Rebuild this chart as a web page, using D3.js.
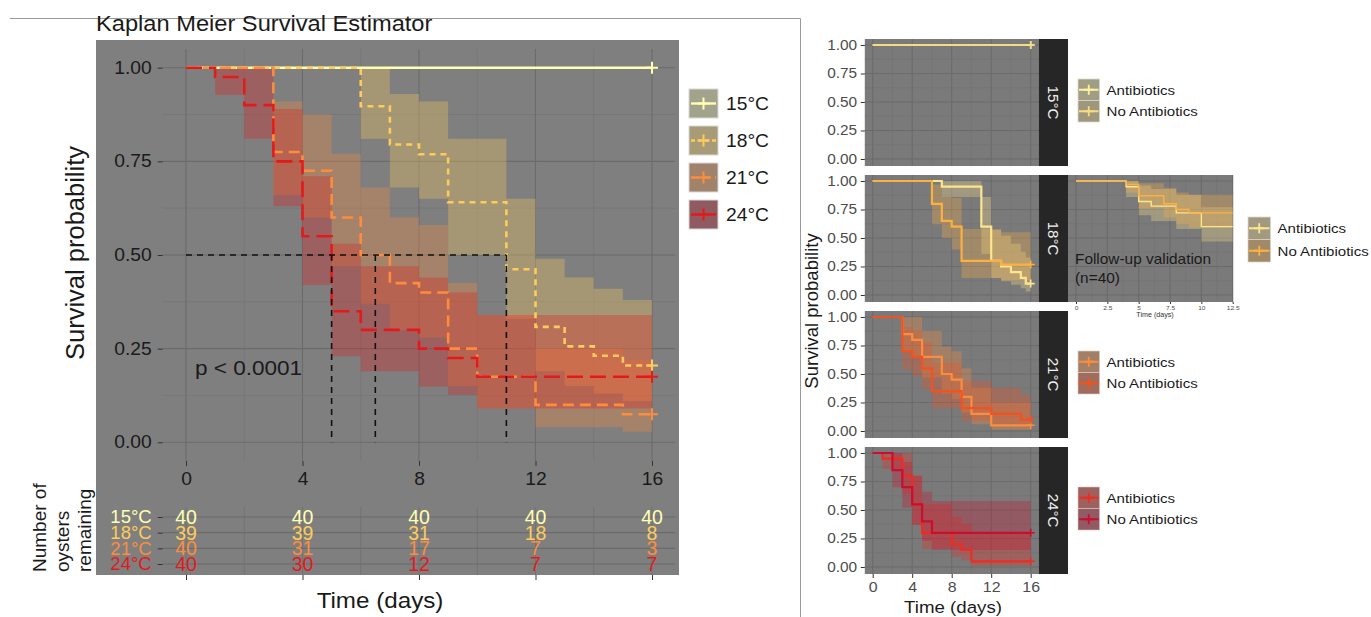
<!DOCTYPE html>
<html>
<head>
<meta charset="utf-8">
<script src="https://cdnjs.cloudflare.com/ajax/libs/d3/7.8.5/d3.min.js"></script>
<style>
  body { margin: 0; background: #fff; }
  svg text { font-family: "Liberation Sans", Arial, Helvetica, sans-serif; }
</style>
</head>
<body>
<div id="chart"></div>
<script>
// temperature groups
const groups = ["15°C", "18°C", "21°C", "24°C"]
const groupColors = ["#ffffb2", "#fecc5c", "#fd8d3c", "#e31a1c"]

// Kaplan-Meier steps, each row: [day, survival, lower CI, upper CI]
const km15 = [[0, 1, 1, 1]]
const km18 = [[0, 1, 1, 1], [6, 0.897, 0.81, 1], [7, 0.795, 0.68, 0.93], [8, 0.769, 0.65, 0.91],
  [9, 0.641, 0.5, 0.81], [11, 0.462, 0.33, 0.65], [12, 0.308, 0.19, 0.49], [13, 0.256, 0.15, 0.44],
  [14, 0.231, 0.13, 0.41], [15, 0.205, 0.11, 0.38]]
const km21 = [[0, 1, 1, 1], [3, 0.775, 0.66, 0.91], [4, 0.725, 0.6, 0.875], [5, 0.6, 0.47, 0.77],
  [6, 0.5, 0.37, 0.68], [7, 0.425, 0.3, 0.6], [8, 0.4, 0.28, 0.58], [9, 0.25, 0.15, 0.425],
  [10, 0.175, 0.09, 0.34], [12, 0.1, 0.04, 0.25], [15, 0.075, 0.028, 0.22]]
const km24 = [[0, 1, 1, 1], [1, 0.975, 0.927, 1], [2, 0.9, 0.81, 1], [3, 0.75, 0.63, 0.89],
  [4, 0.55, 0.42, 0.71], [5, 0.35, 0.23, 0.53], [6, 0.3, 0.19, 0.47], [8, 0.25, 0.148, 0.44],
  [9, 0.225, 0.126, 0.4], [10, 0.175, 0.09, 0.34]]
const medianDays = [5, 6.5, 11]
const pValue = "p < 0.0001"

// number at risk
const riskDays = [0, 4, 8, 12, 16]
const risk15 = [40, 40, 40, 40, 40]
const risk18 = [39, 39, 31, 18, 8]
const risk21 = [40, 31, 17, 7, 3]
const risk24 = [40, 30, 12, 7, 7]

const dayTicks = [0, 4, 8, 12, 16]
const survTicks = [0, 0.25, 0.5, 0.75, 1]

// facets by treatment
const treatments = ["Antibiotics", "No Antibiotics"]
const f15A = [[0, 1, 1, 1]]
const f15N = [[0, 1, 1, 1]]
const f18A = [[0, 1, 1, 1], [7, 0.95, 0.86, 1], [11, 0.6, 0.36, 0.86], [12, 0.3, 0.15, 0.57],
  [13, 0.25, 0.12, 0.52], [14, 0.2, 0.09, 0.45], [15, 0.15, 0.06, 0.38], [15.5, 0.1, 0.03, 0.33]]
const f18N = [[0, 1, 1, 1], [6, 0.8, 0.62, 0.97], [7, 0.65, 0.5, 0.86], [8, 0.6, 0.4, 0.85],
  [9, 0.3, 0.15, 0.58], [13, 0.267, 0.13, 0.55]]
const f21A = [[0, 1, 1, 1], [3, 0.85, 0.7, 1], [4, 0.8, 0.64, 1], [5, 0.65, 0.47, 0.88],
  [7, 0.5, 0.33, 0.74], [8, 0.45, 0.28, 0.7], [9, 0.3, 0.16, 0.55], [10, 0.15, 0.06, 0.38],
  [12, 0.05, 0.01, 0.25]]
const f21N = [[0, 1, 1, 1], [3, 0.7, 0.54, 0.91], [4, 0.65, 0.48, 0.88], [5, 0.55, 0.37, 0.78],
  [6, 0.35, 0.2, 0.6], [9, 0.2, 0.09, 0.44], [12, 0.15, 0.05, 0.38], [15, 0.1, 0.03, 0.32]]
const f24A = [[0, 1, 1, 1], [1, 0.95, 0.86, 1], [3, 0.8, 0.64, 1], [4, 0.55, 0.37, 0.8],
  [5, 0.3, 0.16, 0.55], [8, 0.2, 0.09, 0.44], [9, 0.15, 0.06, 0.38], [10, 0.05, 0.01, 0.3]]
const f24N = [[0, 1, 1, 1], [2, 0.85, 0.7, 1], [3, 0.7, 0.52, 0.92], [4, 0.55, 0.37, 0.8],
  [5, 0.4, 0.23, 0.66], [6, 0.3, 0.15, 0.58]]
const facetColors = [["#fdf0a0", "#f5dc80"], ["#fde58e", "#fdb042"], ["#fd8d3c", "#f4511e"], ["#ef2b22", "#c90f2f"]]

// follow-up validation inset
const insetA = [[0, 1, 1, 1], [4, 0.95, 0.86, 1], [5, 0.82, 0.7, 0.96], [6, 0.78, 0.65, 0.93],
  [8, 0.72, 0.58, 0.88], [10, 0.6, 0.47, 0.77]]
const insetN = [[0, 1, 1, 1], [4, 0.97, 0.9, 1], [5, 0.87, 0.76, 0.98], [7, 0.8, 0.68, 0.94],
  [8, 0.75, 0.62, 0.9], [9, 0.72, 0.59, 0.88]]
const insetTicks = [0, 2.5, 5, 7.5, 10, 12.5]

const SX = 1.1
let svg = d3.select("#chart").append("svg")
            .attr("width", 1371)
            .attr("height", 617)

function txt(g, x, y, s, size, anchor, color, sx) {
  return g.append("text")
          .attr("transform", "translate(" + x + "," + y + ") scale(" + (sx || SX) + ",1)")
          .attr("text-anchor", anchor || "start")
          .attr("font-size", size)
          .attr("fill", color || "#1a1a1a")
          .text(s)
}

function stepPoints(rows, end) {
  let last = rows[rows.length - 1]
  return rows.concat([[end, last[1], last[2], last[3]]])
}

function drawBand(g, xs, ys, rows, end, color, alpha) {
  g.append("path")
   .datum(stepPoints(rows, end))
   .attr("d", d3.area().curve(d3.curveStepAfter)
                .x(d => xs(d[0])).y0(d => ys(d[2])).y1(d => ys(d[3])))
   .attr("fill", color)
   .attr("fill-opacity", alpha)
}

function drawLine(g, xs, ys, rows, end, color, width, dash) {
  g.append("path")
   .datum(stepPoints(rows, end))
   .attr("d", d3.line().curve(d3.curveStepAfter).x(d => xs(d[0])).y(d => ys(d[1])))
   .attr("fill", "none")
   .attr("stroke", color)
   .attr("stroke-width", width)
   .attr("stroke-dasharray", dash)
}

function cross(g, cx, cy, r, color, w) {
  g.append("path")
   .attr("d", "M" + (cx - r) + "," + cy + "H" + (cx + r) + "M" + cx + "," + (cy - r) + "V" + (cy + r))
   .attr("stroke", color)
   .attr("stroke-width", w)
}

function drawGrid(g, xs, ys, xVals, yVals, x0, x1, y0, y1, isMajorX, isMajorY) {
  g.selectAll(null).data(xVals).enter().append("line")
   .attr("x1", d => xs(d)).attr("x2", d => xs(d)).attr("y1", y0).attr("y2", y1)
   .attr("stroke", d => isMajorX(d) ? "#6b6b6b" : "#727272")
   .attr("stroke-width", d => isMajorX(d) ? 1.1 : 0.6)
  g.selectAll(null).data(yVals).enter().append("line")
   .attr("y1", d => ys(d)).attr("y2", d => ys(d)).attr("x1", x0).attr("x2", x1)
   .attr("stroke", d => isMajorY(d) ? "#6b6b6b" : "#727272")
   .attr("stroke-width", d => isMajorY(d) ? 1.1 : 0.6)
}

function styleAxis(g, size, color, sx) {
  g.select(".domain").remove()
  g.selectAll(".tick line").attr("stroke", "#333")
  g.selectAll(".tick text")
   .attr("font-size", size)
   .attr("fill", color)
   .attr("font-family", "Liberation Sans, Arial, sans-serif")
   .attr("transform", "scale(" + (sx || SX) + ",1)")
}

// frame lines
svg.append("path")
   .attr("d", "M10,18.5H800.5V617")
   .attr("fill", "none")
   .attr("stroke", "#9a9a9a")

txt(svg, 96, 31, "Kaplan Meier Survival Estimator", 21.5)

// ---------- main Kaplan-Meier plot ----------
let x = d3.scaleLinear().domain([0, 16]).range([186, 652])
let y = d3.scaleLinear().domain([0, 1]).range([442.3, 67.7])
let xL = x(-0.8), xR = x(16.8), yT = y(1.05), yB = y(-0.05)

svg.append("rect")
   .attr("x", 96).attr("y", 40)
   .attr("width", 583).attr("height", 535)
   .attr("fill", "#7f7f7f")

let main = svg.append("g")
drawGrid(main, x, y, d3.range(0, 17, 2), d3.range(0, 1.01, 0.125), xL, xR, yT, yB,
         d => d % 4 == 0, d => (d * 4) % 1 == 0)

let mainCurves = [km15, km18, km21, km24]
let dashes = [null, "6,5", "11,6", "16,7"]
mainCurves.forEach((c, i) => drawBand(main, x, y, c, 16, groupColors[i], 0.3))
mainCurves.forEach((c, i) => drawLine(main, x, y, c, 16, groupColors[i], 2.6, dashes[i]))

// median survival lines
main.append("line")
    .attr("x1", x(0)).attr("x2", x(d3.max(medianDays)))
    .attr("y1", y(0.5)).attr("y2", y(0.5))
    .attr("stroke", "#111").attr("stroke-width", 1.6).attr("stroke-dasharray", "6,5")
main.selectAll(".median").data(medianDays).enter().append("line")
    .attr("x1", d => x(d)).attr("x2", d => x(d))
    .attr("y1", y(0.5)).attr("y2", y(0))
    .attr("stroke", "#111").attr("stroke-width", 1.6).attr("stroke-dasharray", "6,5")

mainCurves.forEach((c, i) => cross(main, x(16), y(c[c.length - 1][1]), 6, groupColors[i], 2))

svg.append("g")
   .attr("transform", "translate(" + xL + ",0)")
   .call(d3.axisLeft(y).tickValues(survTicks).tickFormat(d3.format(".2f")).tickSize(5).tickPadding(5))
   .call(g => styleAxis(g, 17.5, "#1a1a1a"))

svg.append("g")
   .attr("transform", "translate(0," + yB + ")")
   .call(d3.axisBottom(x).tickValues(dayTicks).tickSize(5).tickPadding(7))
   .call(g => styleAxis(g, 17.5, "#1a1a1a"))

txt(svg, 195, 375, pValue, 20.5)

svg.append("text")
   .attr("transform", "translate(84,253) rotate(-90)")
   .attr("text-anchor", "middle")
   .attr("font-size", 25.5)
   .attr("fill", "#1a1a1a")
   .text("Survival probability")

// legend
let legend = svg.selectAll(".legend")
                .data(groups)
                .enter()
                .append("g")
                .attr("transform", (d, i) => "translate(689," + (89 + i * 37) + ")")
let keyFills = ["#a3a38c", "#a89b78", "#a1836c", "#8f5a60"]
legend.append("rect")
      .attr("width", 29).attr("height", 29)
      .attr("fill", (d, i) => keyFills[i])
      .attr("stroke", "#d8d8d8").attr("stroke-width", 1)
legend.append("line")
      .attr("x1", 2).attr("x2", 27).attr("y1", 14.5).attr("y2", 14.5)
      .attr("stroke", (d, i) => groupColors[i])
      .attr("stroke-width", 2.4)
      .attr("stroke-dasharray", (d, i) => i == 1 ? "4,3" : i == 2 ? "8,4" : null)
legend.each(function(d, i) { cross(d3.select(this), 14.5, 14.5, 6, groupColors[i], 2) })
legend.each(function(d, i) { txt(d3.select(this), 37, 21, d, 17.5) })

// ---------- number at risk table ----------
let yRisk = d3.scalePoint().domain(groups).range([517, 564])
let risk = svg.append("g")
risk.selectAll(null).data(d3.range(0, 17, 2)).enter().append("line")
    .attr("x1", d => x(d)).attr("x2", d => x(d)).attr("y1", 507).attr("y2", 575)
    .attr("stroke", "#6f6f6f").attr("stroke-width", 0.8)
risk.selectAll(null).data(groups).enter().append("line")
    .attr("x1", xL).attr("x2", xR).attr("y1", d => yRisk(d)).attr("y2", d => yRisk(d))
    .attr("stroke", "#6b6b6b").attr("stroke-width", 1.1)

let riskRows = [risk15, risk18, risk21, risk24]
riskRows.forEach((row, i) => {
  row.forEach((n, j) => {
    txt(risk, x(riskDays[j]), yRisk(groups[i]) + 7, n, 19.5, "middle", groupColors[i], 1)
  })
})

svg.append("g")
   .attr("transform", "translate(" + xL + ",0)")
   .call(d3.axisLeft(yRisk).tickSize(5).tickPadding(6))
   .call(g => styleAxis(g, 18.5, "#000", 1))
   .call(g => g.selectAll(".tick text").attr("fill", (d, i) => groupColors[i]))

svg.append("g")
   .attr("transform", "translate(0,575)")
   .call(d3.axisBottom(x).tickValues(dayTicks).tickSize(5).tickFormat(""))
   .call(g => styleAxis(g, 10, "#000"))

let riskTitle = ["Number of", "oysters", "remaining"]
riskTitle.forEach((s, i) => {
  svg.append("text")
     .attr("transform", "translate(" + (46 + i * 22.5) + ",572) rotate(-90)")
     .attr("font-size", 19)
     .attr("fill", "#1a1a1a")
     .text(s)
})

txt(svg, 380, 608, "Time (days)", 22, "middle")

// ---------- right: facets by temperature ----------
let rx = d3.scaleLinear().domain([0, 16]).range([872.7, 1030.7])
let rxL = rx(-0.8), rxR = rx(16.8)
let panelTops = [39, 175, 311, 447]
let facetData = [[f15A, f15N], [f18A, f18N], [f21A, f21N], [f24A, f24N]]

panelTops.forEach((top, p) => {
  let ry = d3.scaleLinear().domain([0, 1]).range([top + 120, top + 6])
  let g = svg.append("g")
  g.append("rect")
   .attr("x", rxL).attr("y", top)
   .attr("width", rxR - rxL).attr("height", 127)
   .attr("fill", "#7a7a7a")
  drawGrid(g, rx, ry, d3.range(0, 17, 2), d3.range(0, 1.01, 0.125), rxL, rxR, top, top + 127,
           d => d % 4 == 0, d => (d * 4) % 1 == 0)
  facetData[p].forEach((c, k) => drawBand(g, rx, ry, c, 16, facetColors[p][k], 0.3))
  facetData[p].forEach((c, k) => drawLine(g, rx, ry, c, 16, facetColors[p][k], 2.2, null))
  facetData[p].forEach((c, k) => cross(g, rx(16), ry(c[c.length - 1][1]), 4, facetColors[p][k], 1.6))

  // strip
  g.append("rect")
   .attr("x", rxR).attr("y", top)
   .attr("width", 29.4).attr("height", 127)
   .attr("fill", "#262626")
  g.append("text")
   .attr("transform", "translate(" + (rxR + 14.7) + "," + (top + 63.5) + ") rotate(90)")
   .attr("text-anchor", "middle")
   .attr("dominant-baseline", "central")
   .attr("font-size", 15)
   .attr("fill", "#f2f2f2")
   .text(groups[p])

  svg.append("g")
     .attr("transform", "translate(" + rxL + ",0)")
     .call(d3.axisLeft(ry).tickValues(survTicks).tickFormat(d3.format(".2f")).tickSize(4).tickPadding(3))
     .call(g => styleAxis(g, 14, "#4d4d4d"))

  // legend
  let lx = p == 1 ? 1248 : 1078
  let ly = p == 1 ? top + 42 : top + 40
  let ks = p == 1 ? 22.5 : 21.5
  treatments.forEach((name, k) => {
    let kg = svg.append("g").attr("transform", "translate(" + lx + "," + (ly + k * ks) + ")")
    kg.append("rect").attr("width", ks).attr("height", ks).attr("fill", "#7a7a7a")
      .attr("stroke", "#d8d8d8").attr("stroke-width", 0.8)
    kg.append("rect").attr("width", ks).attr("height", ks).attr("fill", facetColors[p][k])
      .attr("fill-opacity", 0.3)
    kg.append("line").attr("x1", 1).attr("x2", ks - 1).attr("y1", ks / 2).attr("y2", ks / 2)
      .attr("stroke", facetColors[p][k]).attr("stroke-width", 2)
    cross(kg, ks / 2, ks / 2, 5, facetColors[p][k], 1.8)
    txt(kg, ks + 7, ks / 2 + 5, name, 13.7)
  })

  if (p == 3) {
    svg.append("g")
       .attr("transform", "translate(0," + (top + 127) + ")")
       .call(d3.axisBottom(rx).tickValues(dayTicks).tickSize(4).tickPadding(4))
       .call(g => styleAxis(g, 14.5, "#4d4d4d"))
  }
})

txt(svg, 953, 613, "Time (days)", 17, "middle")
svg.append("text")
   .attr("transform", "translate(818,311) rotate(-90)")
   .attr("text-anchor", "middle")
   .attr("font-size", 18.5)
   .attr("fill", "#1a1a1a")
   .text("Survival probability")

// ---------- follow-up validation inset ----------
let ix = d3.scaleLinear().domain([0, 12.5]).range([1076, 1232.7])
let iy = d3.scaleLinear().domain([0, 1]).range([175 + 120, 175 + 6])
let inset = svg.append("g")
inset.append("rect")
     .attr("x", 1068).attr("y", 175)
     .attr("width", 1233 - 1068).attr("height", 127)
     .attr("fill", "#7a7a7a")
drawGrid(inset, ix, iy, d3.range(0, 12.6, 1.25), d3.range(0, 1.01, 0.125), 1068, 1233, 175, 302,
         d => (d / 2.5) % 1 == 0, d => (d * 4) % 1 == 0)
let insetCurves = [insetA, insetN]
insetCurves.forEach((c, k) => drawBand(inset, ix, iy, c, 12.5, facetColors[1][k], 0.3))
insetCurves.forEach((c, k) => drawLine(inset, ix, iy, c, 12.5, facetColors[1][k], 1.4, null))

svg.append("g")
   .attr("transform", "translate(0,302)")
   .call(d3.axisBottom(ix).tickValues(insetTicks).tickFormat(d => d).tickSize(2).tickPadding(2))
   .call(g => styleAxis(g, 6, "#4d4d4d"))
txt(svg, 1155, 317, "Time (days)", 6.5, "middle", "#333")

txt(svg, 1075, 264, "Follow-up validation", 14)
txt(svg, 1075, 283, "(n=40)", 14)
</script>
</body>
</html>
